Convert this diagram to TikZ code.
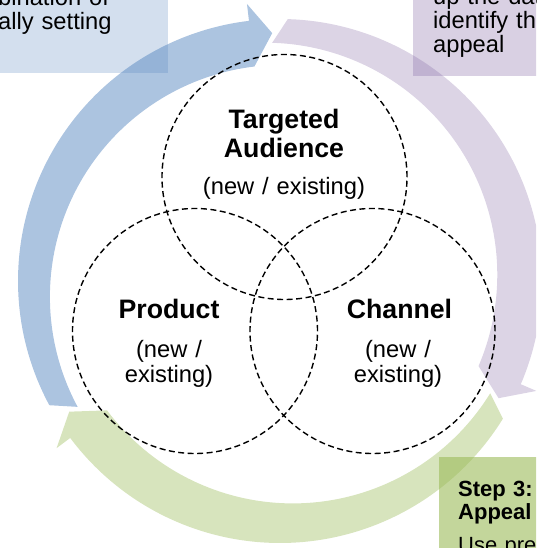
\documentclass[tikz,border=0pt]{standalone}
\usepackage{fontspec}
\setmainfont{Liberation Sans}
\usetikzlibrary{positioning}
\definecolor{azul}{HTML}{4F81BD}
\definecolor{lila}{HTML}{8064A2}
\definecolor{verde}{HTML}{9BBB59}

\begin{document}
\begin{tikzpicture}[x=1pt,y=1pt,
  conjunto/.style={circle,draw,dash pattern=on 6pt off 3.5pt,line width=1.4pt,minimum size=245pt,inner sep=0pt},
  caja/.style={minimum width=220pt,minimum height=120pt,inner sep=0pt},
  titulo/.style={font=\fontsize{26.7}{29}\selectfont\bfseries,text width=170pt,align=center,inner sep=0pt,anchor=base},
  nota/.style={font=\fontsize{23.7}{25}\selectfont,text width=170pt,align=center,inner sep=0pt,anchor=base},
  paso/.style={font=\fontsize{23.7}{24}\selectfont,text width=200pt,align=left,inner sep=0pt,anchor=base west}]
\useasboundingbox (-280,-267) rectangle (256,281);
\clip (-280,-267) rectangle (256,281);

\node[caja,fill=azul,fill opacity=.25,anchor=south east] (caja1) at (-112,208) {};
\node[caja,fill=lila,fill opacity=.3,anchor=south west] (caja2) at (133,205) {};
\node[caja,fill=verde,fill opacity=.6,anchor=north west] (caja3) at (159,-176) {};

\foreach \a/\c/\o in {208.3/azul/.47,88.3/lila/.28,-31.7/verde/.4}
  \fill[\c,fill opacity=\o] (\a:262) arc[start angle=\a,end angle=\a-111.5,radius=262]
    -- (\a-111.5:279) -- (\a-116.5:248) -- (\a-111.5:216)
    arc[start angle=\a-111.5,end angle=\a,radius=232] -- cycle;

\node[conjunto] (audiencia) at (4.5,104) {};
\node[conjunto] (producto) at (-85,-50) {};
\node[conjunto] (canal) at (92.5,-50) {};

\node[titulo] (t-audiencia) at (4,152) {Targeted\\Audience};
\node[nota] (n-audiencia) at (4,86) {(new / existing)};
\node[titulo] (t-producto) at (-111,-38) {Product};
\node[nota] (n-producto) at (-111,-77) {(new /\\existing)};
\node[titulo] (t-canal) at (119.5,-38) {Channel};
\node[nota] (n-canal) at (118,-77) {(new /\\existing)};

\node[paso] (texto1) at (-282,275) {bination of\\ally setting};
\node[paso] (texto2) at (153,276) {up the dat\\identify th\\appeal};
\node[paso,font=\fontsize{22}{23.5}\selectfont] (texto3) at (178,-215)
  {\textbf{Step 3:}\\\textbf{Appeal}\\[9pt]Use pre};
\end{tikzpicture}
\end{document}
